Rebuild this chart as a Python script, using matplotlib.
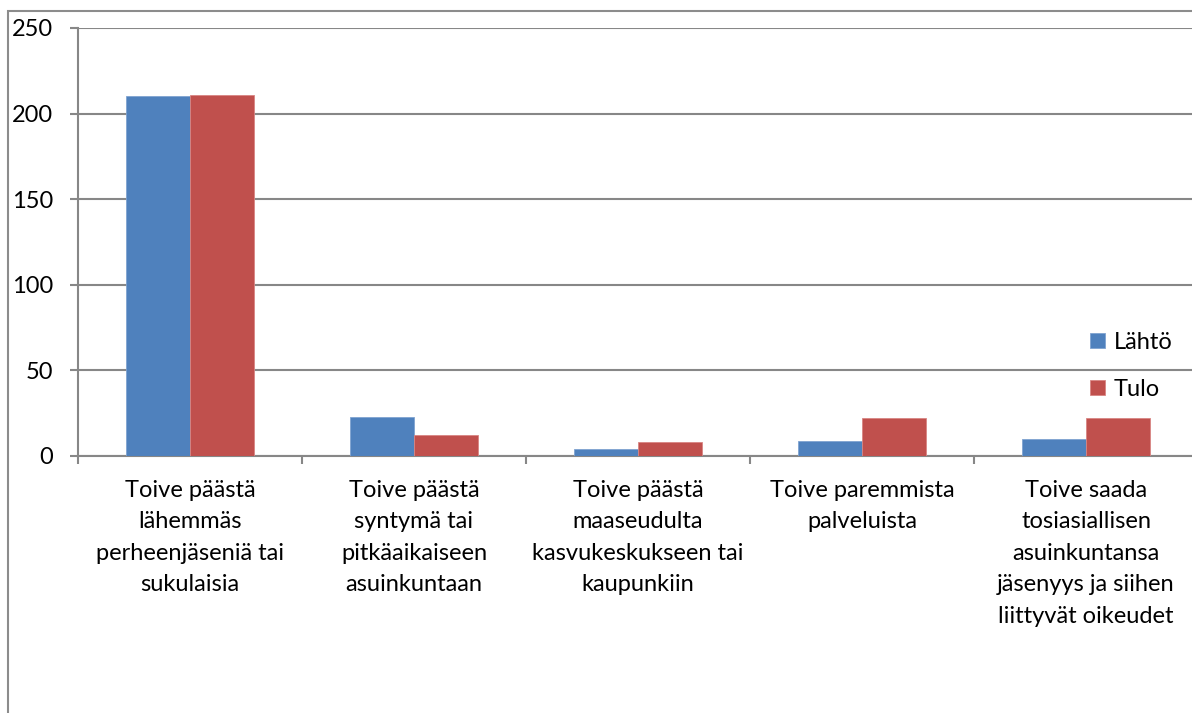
import matplotlib.pyplot as plt
from matplotlib.patches import Rectangle
import numpy as np

plt.rcParams['font.family'] = ['Lato', 'DejaVu Sans']

categories = [
    "Toive päästä\nlähemmäs\nperheenjäseniä tai\nsukulaisia",
    "Toive päästä\nsyntymä tai\npitkäaikaiseen\nasuinkuntaan",
    "Toive päästä\nmaaseudulta\nkasvukeskukseen tai\nkaupunkiin",
    "Toive paremmista\npalveluista",
    "Toive saada\ntosiasiallisen\nasuinkuntansa\njäsenyys ja siihen\nliittyvät oikeudet",
]
lahto = [210, 23, 4, 9, 10]
tulo = [211, 12, 8, 22, 22]
series_names = ["Lähtö", "Tulo"]
y_ticks = [0, 50, 100, 150, 200, 250]

W, H = 1192, 713
fig = plt.figure(figsize=(W / 100, H / 100), dpi=100)

# plot area runs past the right edge of the picture, like the cropped original
ax = fig.add_axes([78 / W, (H - 456) / H, 1120 / W, 428 / H])

grid_col = '#878787'
x = np.arange(len(categories))
w = 0.2857
ax.bar(x - w / 2, lahto, w, color='#4F81BD', edgecolor='#7FA3D0', linewidth=0.6,
       label=series_names[0], zorder=3)
ax.bar(x + w / 2, tulo, w, color='#C0504D', edgecolor='#D88583', linewidth=0.6,
       label=series_names[1], zorder=3)

ax.set_xlim(-0.5, len(categories) - 0.5)
ax.set_ylim(0, 250)
ax.set_yticks(y_ticks)
ax.yaxis.grid(True, color=grid_col, linewidth=1.5, zorder=0)
ax.set_axisbelow(True)

for s in ['top', 'right']:
    ax.spines[s].set_visible(False)
for s in ['left', 'bottom']:
    ax.spines[s].set_color(grid_col)
    ax.spines[s].set_linewidth(1.5)

ax.tick_params(axis='y', direction='out', length=6, width=1.5, color=grid_col,
               pad=12, labelsize=17)
ax.set_xticks(x)
ax.set_xticklabels(categories, fontsize=17, linespacing=1.62, color='#000000')
ax.set_xticks(np.arange(len(categories) + 1) - 0.5, minor=True)
ax.tick_params(axis='x', which='major', length=0, pad=17)
ax.tick_params(axis='x', which='minor', direction='out', length=6, width=1.5,
               color=grid_col)

ax.legend(loc='upper left', bbox_to_anchor=(1078 / W, 1 - 320 / H),
          bbox_transform=fig.transFigure, frameon=False, fontsize=17,
          handlelength=0.65, handleheight=0.65, handletextpad=0.35,
          labelspacing=1.1, borderpad=0)

# outer chart border, cut off at right and bottom
fig.patches.append(Rectangle((8 / W, -0.2), 1.5, 1.2 - 11 / H, fill=False,
                             edgecolor='#8c8c8c', linewidth=1.5,
                             transform=fig.transFigure, figure=fig))

fig.savefig('out.png', dpi=100)
